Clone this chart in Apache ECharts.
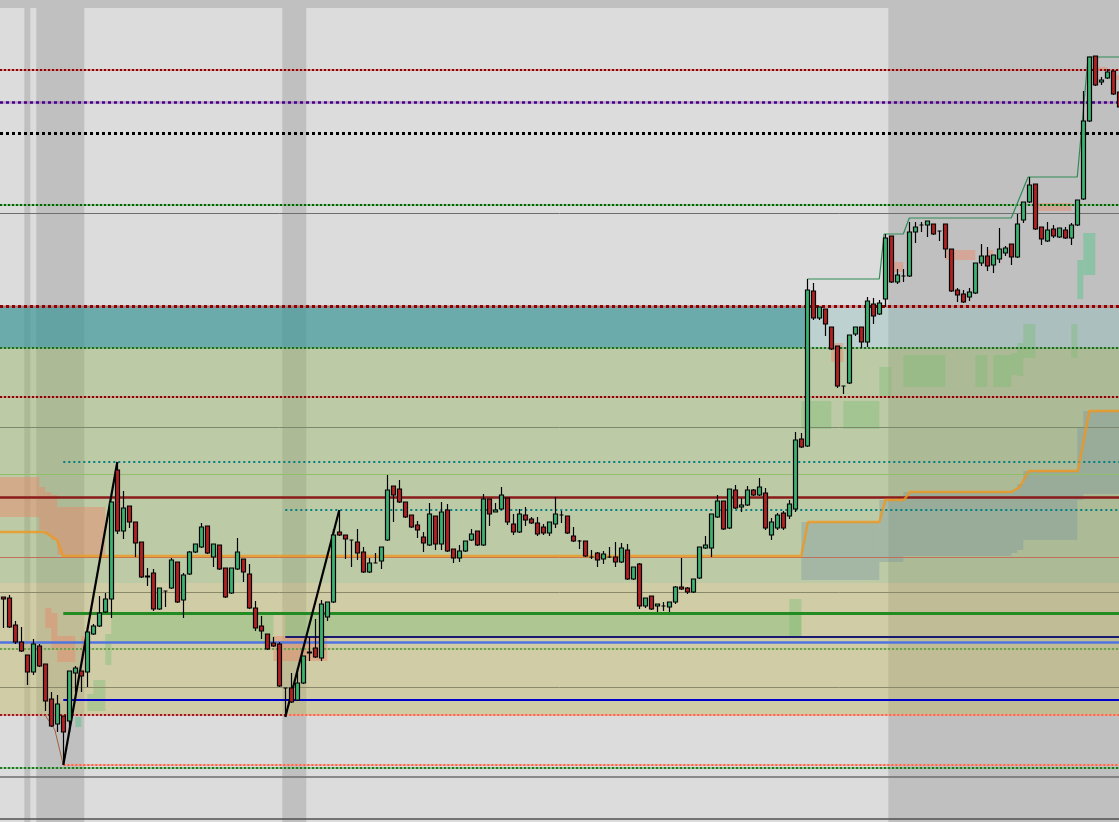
<!DOCTYPE html>
<html><head><meta charset="utf-8">
<script src="https://cdn.jsdelivr.net/npm/echarts@6/dist/echarts.min.js"></script>
<style>html,body{margin:0;padding:0;background:#dcdcdc;overflow:hidden}#c{width:1119px;height:822px}</style>
</head><body><div id="c"></div>
<script>
// ---- candle data (bar index 0..186) ----
const candleOpen = [403,402,375,358,345,328,354,336,301,276,284,279,327,329,328,366,374,388,401,530,469,494,478,458,423,427,391,409,412,438,400,426,448,453,474,443,455,432,407,431,441,426,392,374,366,357,356,312,312,300,317,347,352,342,383,398,468,465,460,458,448,428,437,439,460,514,511,498,485,475,463,455,484,456,490,451,442,449,460,469,455,501,488,491,502,476,468,485,481,477,473,467,476,485,484,464,459,459,443,447,441,443,443,438,450,421,436,394,404,394,394,393,398,413,412,408,422,452,452,483,499,472,510,493,495,510,505,507,465,472,487,484,491,561,554,709,682,691,673,654,614,617,666,673,658,696,686,701,764,718,724,724,768,775,775,776,769,776,751,710,706,703,707,737,744,735,741,747,756,743,780,798,816,773,759,771,763,770,762,775,801,879,944,918,922,929,908];
const candleClose = [401,373,358,349,328,356,334,299,274,296,268,329,332,324,368,374,387,401,498,469,492,478,457,423,424,391,412,409,440,398,425,448,456,473,447,456,431,403,432,448,428,392,372,369,351,354,314,312,298,317,344,348,343,396,398,465,465,461,460,447,428,437,437,453,510,505,498,483,473,470,457,486,456,488,449,442,449,459,466,455,501,486,490,505,478,468,486,480,477,466,467,478,486,485,467,459,459,444,443,440,446,443,438,452,421,433,394,402,391,396,394,398,413,411,408,421,453,455,486,499,471,511,492,495,510,505,513,472,478,485,472,496,560,553,710,682,693,676,651,614,614,665,673,658,699,684,697,762,718,725,724,768,773,775,779,766,769,751,709,705,698,708,737,744,734,745,751,752,743,776,798,815,771,761,770,764,772,762,775,800,879,943,915,920,928,906,893];
const candleLow = [372,372,356,348,315,325,333,289,273,268,235,268,308,308,313,365,373,387,382,466,461,472,443,422,414,389,390,393,411,397,382,425,447,452,446,433,430,402,406,430,418,391,369,361,350,353,313,283,297,299,316,339,342,339,379,397,464,441,433,440,427,427,437,431,459,478,497,482,472,462,448,454,450,450,448,437,438,448,459,454,454,474,488,490,475,465,467,474,476,464,465,464,472,477,466,458,451,443,441,433,436,442,433,437,420,420,391,392,390,388,389,388,396,410,406,407,421,451,443,482,470,471,491,488,494,504,504,470,460,470,470,481,488,552,553,680,680,664,650,612,606,616,664,652,653,676,685,693,717,716,718,723,757,768,763,765,759,742,708,698,697,699,706,734,729,727,737,744,735,742,777,797,770,755,758,762,762,761,755,774,800,878,914,915,921,905,892];
const candleHigh = [403,405,379,373,345,361,356,336,308,305,284,329,334,329,369,376,404,407,498,538,509,494,478,458,432,431,412,409,442,438,427,449,456,477,474,456,455,432,432,462,441,436,399,384,366,363,358,312,327,332,344,363,381,400,398,471,490,465,460,471,453,442,447,453,525,514,520,498,485,479,468,497,484,498,496,451,455,459,471,469,506,501,497,513,502,486,491,493,483,483,476,478,503,489,484,473,460,459,450,448,449,453,458,457,456,433,437,402,404,396,398,398,414,442,413,421,453,464,486,505,499,511,515,502,514,511,522,512,482,487,489,500,568,567,721,717,693,691,673,654,614,665,673,673,703,702,700,766,764,731,731,778,778,778,779,776,769,776,751,712,710,712,737,756,753,745,772,754,756,786,798,823,816,773,778,775,772,773,777,800,909,943,944,923,931,929,908];

// ---- horizontal levels (price) ----
const levelPrices = [930, 898, 867, 795, 787, 694, 652, 603, 573, 538, 526, 503, 490, 443, 408, 387, 387, 363, 358, 351, 313, 300, 285, 285, 235, 232, 223, 181];

// ---- zones (price ranges) ----
const zoneTeal = [652, 694];
const zoneGreen = [417, 652];
const zoneYellow = [285, 417];

// ---- session shading (bar ranges) ----
const sessionBands = [[3.5, 4.5], [5.5, 13.5], [46.5, 50.5], [147.5, 185.95]];

// ---- imbalance blocks: [barFrom, barTo, priceLow, priceHigh] ----
const greenBlocks = [[14,15,289,306],[15,17,289,320],[17,18,335,366],[18,45,357,387],[47,133,363,387],[131,133,363,401],[133,138,571,599],[140,146,571,599],[146,148,604,633],[150,157,613,645],[162,164,613,645],[165,168,613,645],[168,169,625,647],[169,170,624,657],[170,172,642,676],[178,179,642,676]];
const mintBlocks = [[12,13,273,283],[179,180,701,740],[180,182,725,767]];
const salmonBlocks = [[-0.55,6,483,523],[6,7,470,513],[7,8,465,508],[8,9,460,505],[9,17,445,493],[7,8,372,392],[8,9,350,387],[9,12,338,364],[13,13.5,340,364],[45,54,339,364],[138,140,638,657],[148.3,150,728,738],[157,162,740,750],[164,165,745,750],[172.3,178,789,797],[181.5,184,929,933],[185,186,920,925]];
const cloudBlocks = [[133,146,420,478],[146,150,438,500],[150,168,444,508],[168,169,447,510],[169,170,450,516],[170,179,460,529],[179,180,500,572],[180,186,506,589]];

// ---- step lines / swings: [bar, price] ----
const orangeStep = [[-0.55,468],[6.95,468],[8.95,460],[9.95,444],[133,444],[134.1,478],[146,478],[147,500],[150.1,500],[151.1,508],[168,508],[169.4,513],[170.9,529],[179.1,529],[181,589],[186,589]];
const greenStep = [[134,721],[146,721],[146.8,766],[150,766],[151,782],[168,782],[170.8,823],[179,823],[180.8,943],[186,943]];
const swingUp1 = [[10,235],[19,538]];
const swingUp2 = [[47,283],[56,490]];
const brownTrail = [[6.95,285],[8.6,270],[10,235]];

const X0 = -0.55, X1 = 185.95, YMIN = 178, YMAX = 1000;

const levelStyles = [
  {from:X0, color:'#8b0000', width:2, dash:[2,2], under:'rgba(205,92,92,0.55)'},
  {from:X0, color:'#4b0082', width:2.5, dash:[3,3], under:'rgba(130,90,180,0.45)'},
  {from:X0, color:'#000000', width:3, dash:[3,3]},
  {from:X0, color:'#006400', width:2, dash:[2,2], under:'rgba(90,170,90,0.55)'},
  {from:X0, color:'#6e6e6e', width:1},
  {from:X0, color:'#8b0000', width:3, dash:[3,3], under:'rgba(200,80,80,0.45)'},
  {from:X0, color:'#1e6b1e', width:2, dash:[2,2], under:'rgba(90,170,90,0.5)'},
  {from:X0, color:'#8b0000', width:2, dash:[2,2], under:'rgba(200,90,90,0.45)'},
  {from:X0, color:'#7c8a6c', width:1},
  {from:10, color:'#008080', width:2, dash:[2,3]},
  {from:X0, color:'#8fbf6a', width:1},
  {from:X0, color:'#8b1a1a', width:2.5},
  {from:47, color:'#008080', width:2, dash:[2,3]},
  {from:X0, color:'#c0705a', width:1},
  {from:X0, color:'#8a8a6a', width:1},
  {from:10, color:'#228b22', width:3},
  {from:47, color:'#228b22', width:3},
  {from:47, color:'#191970', width:2},
  {from:X0, color:'#4f74e0', width:2.5},
  {from:X0, color:'#6f9f4f', width:2, dash:[2,2], under:'rgba(150,190,120,0.4)'},
  {from:X0, color:'#8a8a6a', width:1},
  {from:10, color:'#0000cd', width:2},
  {from:X0, to:47, color:'#a01818', width:2, dash:[2,2], under:'rgba(220,110,110,0.5)'},
  {from:47, color:'#ff6347', width:2, dash:[2,2], under:'rgba(255,150,130,0.5)'},
  {from:10, color:'#ff6347', width:2, dash:[2,2], under:'rgba(255,150,130,0.5)'},
  {from:X0, color:'#1e7b1e', width:2, dash:[2,2], under:'rgba(90,170,90,0.5)'},
  {from:X0, color:'#6e6e6e', width:1.5},
  {from:X0, color:'#505050', width:1.5}
];

const lineData = [];
levelPrices.forEach((p, k) => {
  const s = levelStyles[k];
  const to = s.to != null ? s.to : X1;
  if (s.under) lineData.push([{coord:[s.from, p], lineStyle:{color:s.under, width:s.width, type:'solid'}}, {coord:[to, p]}]);
  lineData.push([{coord:[s.from, p], lineStyle:{color:s.color, width:s.width, type:s.dash || 'solid'}}, {coord:[to, p]}]);
});

function rects(list, color) {
  return list.map(b => [{xAxis:b[0], yAxis:b[2], itemStyle:{color:color}}, {xAxis:b[1], yAxis:b[3]}]);
}
function areaSeries(data, z) {
  return {type:'line', data:[], z:z, silent:true, animation:false,
    markArea:{silent:true, z:z, animation:false, label:{show:false}, data:data}};
}

const bandData = sessionBands.map(b => [{xAxis:b[0], yAxis:YMIN, itemStyle:{color:'#c0c0c0'}}, {xAxis:b[1], yAxis:YMAX}]);
bandData.push([{xAxis:X0, yAxis:992, itemStyle:{color:'#c0c0c0'}}, {xAxis:X1, yAxis:YMAX}]);

const zoneData = [
  [{xAxis:X0, yAxis:zoneTeal[0], itemStyle:{color:'rgba(130,190,185,0.35)'}}, {xAxis:X1, yAxis:zoneTeal[1]}],
  [{xAxis:X0, yAxis:zoneTeal[0], itemStyle:{color:'rgba(40,140,140,0.55)'}}, {xAxis:133.6, yAxis:zoneTeal[1]}],
  [{xAxis:X0, yAxis:zoneGreen[0], itemStyle:{color:'rgba(150,180,100,0.45)'}}, {xAxis:X1, yAxis:zoneGreen[1]}],
  [{xAxis:X0, yAxis:zoneYellow[0], itemStyle:{color:'rgba(190,185,100,0.45)'}}, {xAxis:X1, yAxis:zoneYellow[1]}]
];

const option = {
  backgroundColor:'#dcdcdc',
  animation:false,
  grid:{left:0, right:0, top:0, bottom:0, containLabel:false},
  xAxis:{type:'value', min:X0, max:X1, show:false, splitLine:{show:false}},
  yAxis:{type:'value', min:YMIN, max:YMAX, show:false, splitLine:{show:false}},
  series:[
    areaSeries(bandData, 1),
    areaSeries(zoneData, 2),
    areaSeries(rects(cloudBlocks, 'rgba(100,135,160,0.28)'), 3),
    areaSeries(rects(greenBlocks, 'rgba(120,190,110,0.38)'), 3),
    areaSeries(rects(mintBlocks, 'rgba(100,195,145,0.55)'), 3),
    areaSeries(rects(salmonBlocks, 'rgba(235,135,105,0.45)'), 3),
    {type:'line', data:[], z:4, silent:true, animation:false,
      markLine:{silent:true, z:4, animation:false, symbol:['none','none'], label:{show:false}, data:lineData}},
    {type:'line', data:orangeStep, z:5, showSymbol:false, symbol:'none', silent:true,
      lineStyle:{color:'rgba(240,150,30,0.8)', width:2.5}},
    {type:'line', data:greenStep, z:5, showSymbol:false, symbol:'none', silent:true,
      lineStyle:{color:'#2e8b57', width:1.2}},
    {type:'line', data:brownTrail, z:5, showSymbol:false, symbol:'none', silent:true,
      lineStyle:{color:'#a0603a', width:1}},
    {type:'line', data:swingUp1, z:6, showSymbol:false, symbol:'none', silent:true,
      lineStyle:{color:'#000', width:2.2}},
    {type:'line', data:swingUp2, z:6, showSymbol:false, symbol:'none', silent:true,
      lineStyle:{color:'#000', width:2.2}},
    {type:'candlestick', z:7, silent:true, barWidth:4.3,
      data: candleOpen.map((o, i) => [i, o, candleClose[i], candleLow[i], candleHigh[i]]),
      itemStyle:{color:'#3cb371', color0:'#b22222', borderColor:'#000', borderColor0:'#000', borderColorDoji:'#000', borderWidth:1.2}}
  ]
};
const chart = echarts.init(document.getElementById('c'), null, {renderer:'canvas', width:1119, height:822});
chart.setOption(option);
</script>
</body></html>
